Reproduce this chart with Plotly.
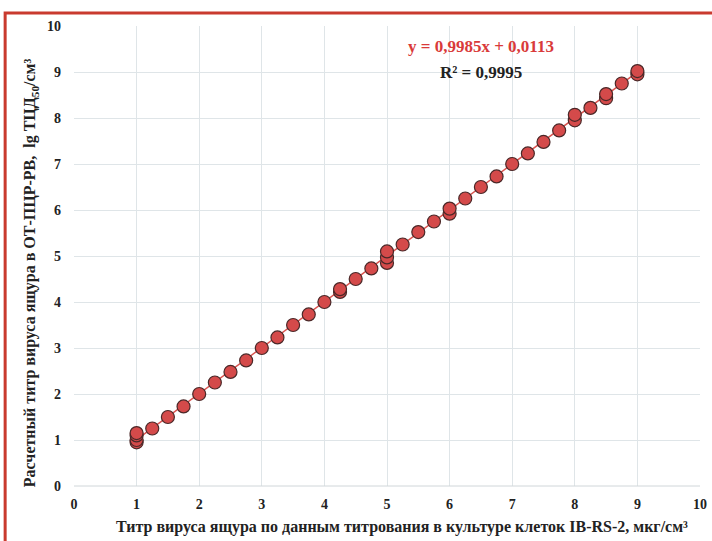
import plotly.graph_objects as go

x_vals = [1, 1, 1, 1, 1.25, 1.5, 1.75, 2, 2.25, 2.5, 2.75, 3, 3.25, 3.5, 3.75, 4,
          4.25, 4.25, 4.5, 4.75, 5, 5, 5, 5.25, 5.5, 5.75, 6, 6, 6.25, 6.5, 6.75,
          7, 7.25, 7.5, 7.75, 8, 8, 8.25, 8.5, 8.5, 8.75, 9, 9]
y_vals = [0.95, 1.0, 1.1, 1.15, 1.25, 1.5, 1.73, 2.0, 2.25, 2.48, 2.73, 3.0, 3.23, 3.5, 3.73, 4.0,
          4.22, 4.28, 4.5, 4.73, 4.85, 4.97, 5.1, 5.25, 5.52, 5.75, 5.92, 6.03, 6.25, 6.5, 6.73,
          7.0, 7.23, 7.48, 7.73, 7.95, 8.07, 8.22, 8.43, 8.52, 8.75, 8.95, 9.02]
slope = 0.9985
intercept = 0.0113
trend_x = [1, 9]
x_ticks = list(range(0, 11))
y_ticks = list(range(0, 11))

font_family = "Liberation Serif"

fig = go.Figure()
fig.add_trace(go.Scatter(
    x=trend_x, y=[slope * v + intercept for v in trend_x], mode="lines",
    line=dict(color="#d9534f", width=1.5), hoverinfo="skip", showlegend=False))
fig.add_trace(go.Scatter(
    x=x_vals, y=y_vals, mode="markers",
    marker=dict(size=13, color="#d44a4a",
                line=dict(color="#4a2828", width=1.2)),
    showlegend=False))

axis_common = dict(
    range=[0, 10], showgrid=True, gridcolor="#dfe5e8", gridwidth=1,
    zeroline=False, showline=False, ticks="", automargin=False,
    tickfont=dict(family=font_family, size=14, color="#222222", weight="bold"),
)
fig.update_xaxes(**axis_common, tickvals=x_ticks, ticklabelstandoff=8)
fig.update_yaxes(**axis_common, tickvals=y_ticks, ticklabelstandoff=12)

fig.update_layout(
    width=712, height=541,
    margin=dict(l=74, r=12, t=26, b=55),
    plot_bgcolor="white", paper_bgcolor="white",
    font=dict(family=font_family, size=14, color="#222222"),
    shapes=[
        dict(type="line", xref="paper", yref="paper", x0=0, x1=1, y0=0, y1=0,
             line=dict(color="#d0d6d9", width=1)),
        dict(type="rect", xref="paper", yref="paper", x0=-0.110, x1=1.03, y0=-0.14, y1=1.028,
             line=dict(color="#c93a2e", width=3), fillcolor="rgba(0,0,0,0)", layer="below"),
    ],
    annotations=[
        dict(text="<b>y = 0,9985x + 0,0113</b>", x=6.5, y=9.55, xref="x", yref="y",
             showarrow=False, font=dict(family=font_family, size=17, color="#d93a3a")),
        dict(text="<b>R² = 0,9995</b>", x=6.5, y=9.0, xref="x", yref="y",
             showarrow=False, font=dict(family=font_family, size=17, color="#222222")),
        dict(text="<b>Титр вируса ящура по данным титрования в культуре клеток IB-RS-2, мкг/см³</b>",
             xref="paper", yref="paper", x=0.524, y=-0.089, yanchor="middle", showarrow=False,
             font=dict(family=font_family, size=16, color="#222222")),
        dict(text="<b>Расчетный титр вируса ящура в ОТ-ПЦР-РВ,  lg ТЦД<sub>50</sub>/см³</b>",
             xref="paper", yref="paper", x=-0.07, y=0.463, xanchor="center", yanchor="middle",
             textangle=-90, showarrow=False,
             font=dict(family=font_family, size=16, color="#222222")),
    ],
)

fig.write_html("out.html", config={"displayModeBar": False},
               post_script="document.body.style.margin='0';")
